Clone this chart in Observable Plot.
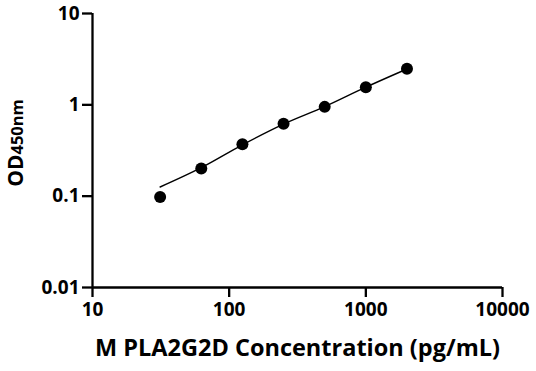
<!DOCTYPE html>
<html>
<head>
<meta charset="utf-8">
<script src="https://cdn.jsdelivr.net/npm/d3@7"></script>
<script src="https://cdn.jsdelivr.net/npm/@observablehq/plot@0.6"></script>
<style>
  html, body { margin: 0; padding: 0; background: #fff; }
  #chart { width: 536px; height: 371px; }
</style>
</head>
<body>
<div id="chart"></div>
<script>
const concentration = [31.25, 62.5, 125, 250, 500, 1000, 2000];
const od = [0.098, 0.201, 0.371, 0.62, 0.95, 1.56, 2.48];
const fitOd = [0.126, 0.205, 0.365, 0.615, 0.955, 1.56, 2.47];
const xTicks = [10, 100, 1000, 10000];
const yTicks = [0.01, 0.1, 1, 10];
const xTitle = "M PLA2G2D Concentration (pg/mL)";
const yTitleMain = "OD";
const yTitleSub = "450nm";

const points = concentration.map((c, i) => ({c, v: od[i]}));
const fit = concentration.map((c, i) => ({c, v: fitOd[i]}));

const font = "'Open Sans', sans-serif";
const chart = Plot.plot({
  width: 536,
  height: 371,
  marginLeft: 92,
  marginRight: 34,
  marginTop: 13,
  marginBottom: 84,
  style: {fontFamily: font, background: "#fff", color: "#000"},
  x: {type: "log", domain: [10, 10000]},
  y: {type: "log", domain: [0.01, 10]},
  marks: [
    Plot.axisX({ticks: xTicks, tickFormat: d => String(d), tickSize: 10, tickPadding: 5, strokeWidth: 2.3, strokeOpacity: 1, fontSize: 19, fontWeight: "bold", label: null, anchor: "bottom"}),
    Plot.axisY({ticks: yTicks, tickFormat: d => String(d), tickSize: 10, tickPadding: 3, strokeWidth: 2.3, strokeOpacity: 1, fontSize: 19, fontWeight: "bold", label: null, anchor: "left"}),
    Plot.ruleY([0.01], {stroke: "#000", strokeWidth: 2.3}),
    Plot.ruleX([10], {stroke: "#000", strokeWidth: 2.3}),
    Plot.line(fit, {x: "c", y: "v", stroke: "#000", strokeWidth: 1.4, curve: "monotone-x"}),
    Plot.dot(points, {x: "c", y: "v", r: 6, fill: "#000", stroke: "none"}),
    Plot.text([xTitle], {frameAnchor: "bottom", dy: 68, fontSize: 23.5, fontWeight: "bold", fill: "#000", textAnchor: "middle"})
  ]
});
document.getElementById("chart").appendChild(chart);

const svg = d3.select(chart);
svg.selectAll("[aria-label='x-axis tick'], [aria-label='y-axis tick']")
  .attr("stroke-width", 2.3).attr("stroke", "#000").attr("stroke-opacity", 1);
svg.selectAll("[aria-label='x-axis tick'] path, [aria-label='y-axis tick'] path, [aria-label='x-axis tick'] line, [aria-label='y-axis tick'] line")
  .attr("stroke-width", 2.3).attr("stroke", "#000").attr("stroke-opacity", 1);
const t = svg.append("text")
  .attr("transform", "translate(23,143) rotate(-90)")
  .attr("text-anchor", "middle")
  .attr("font-family", font)
  .attr("font-weight", "bold")
  .attr("fill", "#000");
t.append("tspan").attr("font-size", 21).text(yTitleMain);
t.append("tspan").attr("font-size", 16.5).text(yTitleSub);
</script>
</body>
</html>
